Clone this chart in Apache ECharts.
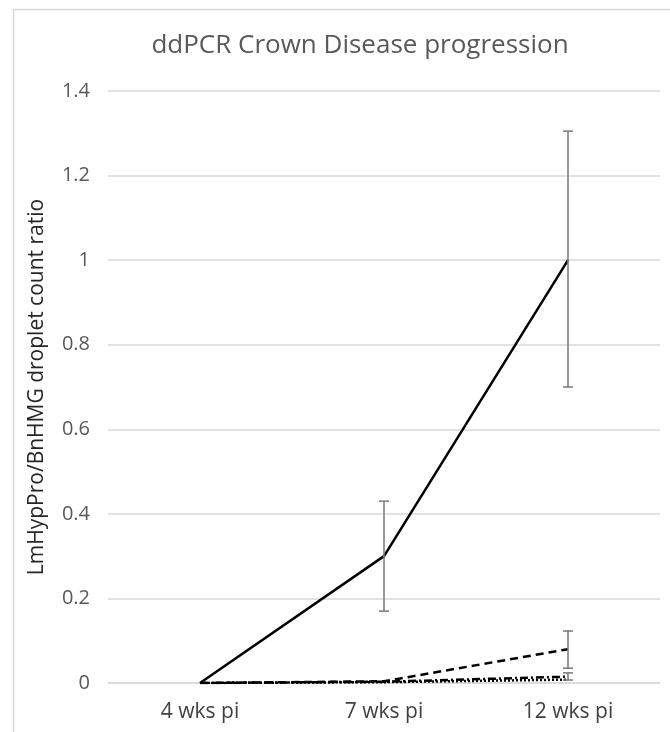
<!DOCTYPE html>
<html>
<head>
<meta charset="utf-8">
<script src="https://cdn.jsdelivr.net/npm/echarts@6/dist/echarts.min.js"></script>
<style>
  html, body { margin: 0; padding: 0; background: #fff; }
  #chart { width: 670px; height: 732px; }
</style>
</head>
<body>
<div id="chart"></div>
<script>
// Sampling times
var categories = ['4 wks pi', '7 wks pi', '12 wks pi'];

// Mean droplet count ratios per line
var seriesA = [0, 0.30, 1.00];
var seriesB = [0, 0.004, 0.080];
var seriesC = [0, 0.003, 0.015];
var seriesD = [0, 0.002, 0.008];

// Error bar bounds (null = no bar)
var errLowA = [null, 0.17, 0.70];
var errHighA = [null, 0.43, 1.305];
var errLowB = [null, null, 0.035];
var errHighB = [null, null, 0.123];
var errLowC = [null, null, 0.007];
var errHighC = [null, null, 0.024];

var yTicks = [0, 0.2, 0.4, 0.6, 0.8, 1, 1.2, 1.4];

var FONT = 'Open Sans';

function errData(lo, hi) {
  var out = [];
  for (var i = 0; i < lo.length; i++) {
    if (lo[i] !== null && hi[i] !== null) out.push([i, lo[i], hi[i]]);
  }
  return out;
}

function errSeries(lo, hi) {
  return {
    type: 'custom',
    z: 5,
    silent: true,
    data: errData(lo, hi),
    encode: { x: 0, y: [1, 2] },
    renderItem: function (params, api) {
      var x = api.value(0);
      var top = api.coord([x, api.value(2)]);
      var bot = api.coord([x, api.value(1)]);
      var half = 5;
      var style = { stroke: '#7f7f7f', lineWidth: 1.6, fill: null };
      return {
        type: 'group',
        children: [
          { type: 'line', shape: { x1: top[0], y1: top[1], x2: bot[0], y2: bot[1] }, style: style },
          { type: 'line', shape: { x1: top[0] - half, y1: top[1], x2: top[0] + half, y2: top[1] }, style: style },
          { type: 'line', shape: { x1: bot[0] - half, y1: bot[1], x2: bot[0] + half, y2: bot[1] }, style: style }
        ]
      };
    }
  };
}

function lineSeries(data, type, width) {
  return {
    type: 'line',
    data: data,
    symbol: 'none',
    z: 3,
    lineStyle: { color: '#000', width: width, type: type, cap: 'butt' }
  };
}

var chart = echarts.init(document.getElementById('chart'), null, { renderer: 'canvas' });

chart.setOption({
  animation: false,
  backgroundColor: '#fff',
  textStyle: { fontFamily: FONT },
  title: {
    text: 'ddPCR Crown Disease progression',
    left: 355,
    textAlign: 'center',
    top: 28,
    textStyle: { fontFamily: FONT, fontSize: 26, fontWeight: 'normal', color: '#595959' }
  },
  graphic: [{
    type: 'rect',
    left: 11, top: 7,
    shape: { width: 720, height: 800 },
    style: { fill: null, stroke: '#d9d9d9', lineWidth: 1.5 },
    silent: true,
    z: -1
  }],
  grid: { left: 108, right: 10, top: 91, bottom: 49, containLabel: false },
  xAxis: {
    type: 'category',
    data: categories,
    boundaryGap: true,
    axisLine: { show: true, lineStyle: { color: '#d9d9d9', width: 1.5 } },
    axisTick: { show: false },
    axisLabel: { fontFamily: FONT, fontSize: 21, color: '#404040', margin: 19 }
  },
  yAxis: {
    type: 'value',
    min: 0, max: 1.4, interval: 0.2,
    name: 'LmHypPro/BnHMG droplet count ratio',
    nameLocation: 'middle',
    nameGap: 60,
    nameRotate: 90,
    nameTextStyle: { fontFamily: FONT, fontSize: 21, color: '#262626' },
    axisLine: { show: false },
    axisTick: { show: false },
    splitLine: { lineStyle: { color: '#d9d9d9', width: 1.5 } },
    axisLabel: {
      fontFamily: FONT, fontSize: 20, color: '#595959', margin: 18,
      formatter: function (v) {
        var t = yTicks.filter(function (k) { return Math.abs(k - v) < 1e-9; });
        return t.length ? String(t[0]) : '';
      }
    }
  },
  series: [
    lineSeries(seriesD, [2, 2], 2.5),
    lineSeries(seriesC, [8, 3, 2, 3], 2.5),
    lineSeries(seriesB, [8, 5], 2.5),
    lineSeries(seriesA, 'solid', 2.5),
    errSeries(errLowA, errHighA),
    errSeries(errLowB, errHighB),
    errSeries(errLowC, errHighC)
  ]
});
</script>
</body>
</html>
